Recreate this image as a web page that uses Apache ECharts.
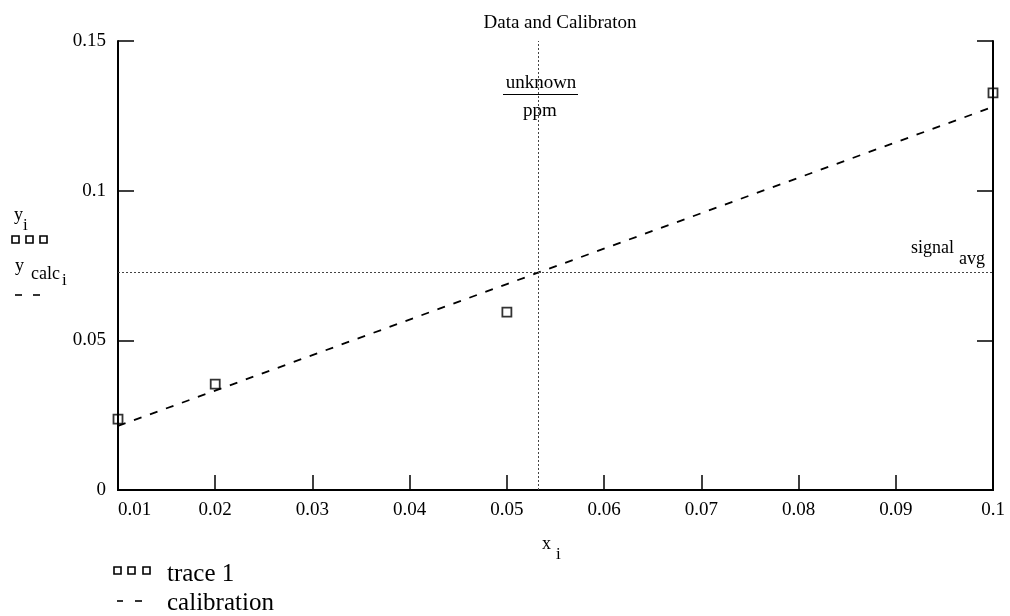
<!DOCTYPE html>
<html>
<head>
<meta charset="utf-8">
<script src="https://cdn.jsdelivr.net/npm/echarts@6/dist/echarts.min.js"></script>
<style>
  html, body { margin: 0; padding: 0; background: #fff; }
  #chart { width: 1010px; height: 616px; }
</style>
</head>
<body>
<div id="chart"></div>
<script>
// values
const xValues = [0.01, 0.02, 0.05, 0.1]
const traceY = [0.0237, 0.0354, 0.0594, 0.1327]
const calibY = [0.0214, 0.0332, 0.0688, 0.128]
const unknownPpm = 0.0532
const signalAvg = 0.0727
const xTicks = [0.01, 0.1, 0.01]   // min, max, interval
const yTicks = [0, 0.15, 0.05]

const font = 'Liberation Serif'
const ink = '#000'

const chart = echarts.init(document.getElementById('chart'))

function txt(x, y, text, size, align) {
  return {
    type: 'text', x, y,
    style: { text, font: size + 'px "' + font + '"', fill: ink, align: align || 'left' },
  }
}
function box(x, y) {
  return { type: 'rect', shape: { x, y, width: 7, height: 7 }, style: { fill: 'none', stroke: ink, lineWidth: 1.6 } }
}
function dash(x1, x2, y) {
  return { type: 'line', shape: { x1, y1: y, x2, y2: y }, style: { stroke: ink, lineWidth: 1.6 } }
}

const option = {
  animation: false,
  backgroundColor: '#fff',
  title: {
    text: 'Data and Calibraton',
    left: 555, top: 9, textAlign: 'center',
    textStyle: { fontFamily: font, fontSize: 19, fontWeight: 'normal', color: ink },
  },
  grid: { left: 118, right: 17, top: 41, bottom: 126 },
  xAxis: [{
    type: 'value', min: xTicks[0], max: xTicks[1], interval: xTicks[2],
    axisLine: { lineStyle: { color: ink, width: 2 } },
    axisTick: { inside: true, length: 15, lineStyle: { color: ink, width: 1.5 } },
    axisLabel: { color: ink, fontFamily: font, fontSize: 19, margin: 11, alignMinLabel: 'left' },
    splitLine: { show: false },
  }, {
    type: 'value', position: 'top', min: xTicks[0], max: xTicks[1],
    axisLine: { lineStyle: { color: ink, width: 2 } },
    axisTick: { show: false }, axisLabel: { show: false }, splitLine: { show: false },
  }],
  yAxis: [{
    type: 'value', min: yTicks[0], max: yTicks[1], interval: yTicks[2],
    axisLine: { show: true, lineStyle: { color: ink, width: 2 } },
    axisTick: { show: true, inside: true, length: 16, lineStyle: { color: ink, width: 1.5 } },
    axisLabel: { color: ink, fontFamily: font, fontSize: 19, margin: 12 },
    splitLine: { show: false },
  }, {
    type: 'value', position: 'right', min: yTicks[0], max: yTicks[1], interval: yTicks[2],
    axisLine: { show: true, lineStyle: { color: ink, width: 2 } },
    axisTick: { show: true, inside: true, length: 16, lineStyle: { color: ink, width: 1.5 } },
    axisLabel: { show: false }, splitLine: { show: false },
  }],
  series: [{
    name: 'calibration', type: 'line',
    data: xValues.map((x, i) => [x, calibY[i]]),
    showSymbol: false, symbol: 'none',
    lineStyle: { color: ink, width: 1.8, type: [8, 9] },
    markLine: {
      silent: true, symbol: 'none', precision: 6, label: { show: false },
      lineStyle: { color: '#444', width: 1, type: [2, 2] },
      data: [{ xAxis: unknownPpm }, { yAxis: signalAvg }],
    },
    z: 2,
  }, {
    name: 'trace 1', type: 'scatter',
    data: xValues.map((x, i) => [x, traceY[i]]),
    symbol: 'rect', symbolSize: 9,
    itemStyle: { color: 'rgba(0,0,0,0)', borderColor: ink, borderWidth: 1.8 },
    z: 3,
  }],
  graphic: [
    // marker labels
    txt(541, 74, 'unknown', 19, 'center'),
    { type: 'line', shape: { x1: 503, y1: 94.5, x2: 578, y2: 94.5 }, style: { stroke: ink, lineWidth: 1.2 } },
    txt(540, 102, 'ppm', 19, 'center'),
    txt(911, 239, 'signal', 18),
    txt(959, 250, 'avg', 18),
    // y axis name
    txt(14, 206, 'y', 18),
    txt(23, 217, 'i', 17),
    box(12, 236), box(26, 236), box(40, 236),
    txt(15, 257, 'y', 18),
    txt(31, 265, 'calc', 18),
    txt(62, 272, 'i', 17),
    dash(15, 22, 295), dash(33, 40, 295),
    // x axis name
    txt(542, 535, 'x', 18),
    txt(556, 546, 'i', 17),
    // legend
    box(114, 567), box(128, 567), box(143, 567),
    txt(167, 562, 'trace 1', 25),
    dash(117, 123, 601), dash(135, 142, 601),
    txt(167, 591, 'calibration', 25),
  ],
}

chart.setOption(option)
</script>
</body>
</html>
